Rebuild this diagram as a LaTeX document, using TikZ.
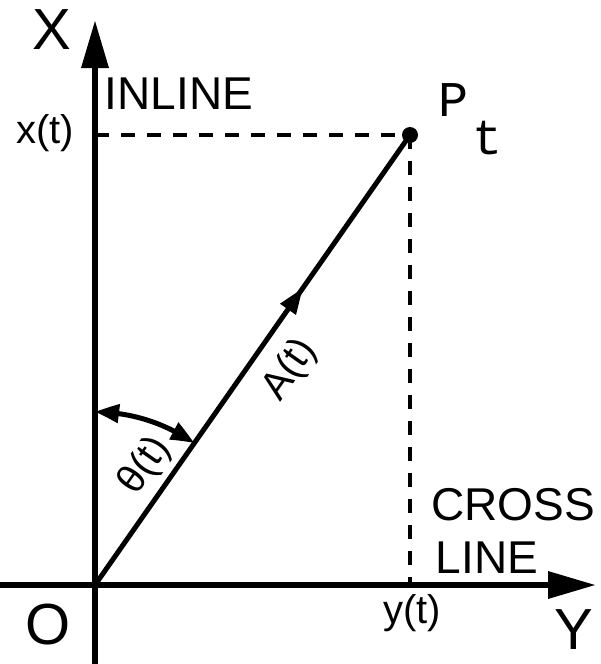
\documentclass[tikz,border=0pt]{standalone}
\usepackage{fontspec}
\setmainfont{Liberation Sans}
\newfontfamily\monofont{Liberation Mono}
\usetikzlibrary{arrows.meta,decorations.markings,bending}
\begin{document}
\begin{tikzpicture}[x=1pt,y=-1pt,
  axis/.style={line width=6.5pt,-{Triangle[length=48pt,width=26pt]}},
  vec/.style={line width=5pt,postaction={decorate},decoration={markings,mark=at position 0.66 with {\arrow{Triangle[length=26pt,width=18pt]}}}},
  guide/.style={line width=4.5pt,dash pattern=on 14pt off 12pt},
  lbl/.style={inner sep=0pt,anchor=center},
  big/.style={lbl,font=\fontsize{58}{60}\selectfont},
  mid/.style={lbl,font=\fontsize{46}{50}\selectfont},
  small/.style={lbl,font=\fontsize{40}{44}\selectfont},
  ang/.style={line width=5pt,{Triangle[length=24pt,width=18pt,bend]}-{Triangle[length=24pt,width=18pt,bend]}}]
\useasboundingbox (0,0) rectangle (600,664);
\coordinate (O) at (95,585);
\coordinate (P) at (410,135);
\coordinate (xtop) at (95,20);
\coordinate (xbot) at (95,664);
\coordinate (yleft) at (0,585);
\coordinate (yright) at (596,585);
\coordinate (xt) at (95,135);
\coordinate (yt) at (410,585);
% axes
\draw[axis] (xbot) -- (xtop);
\draw[axis] (yleft) -- (yright);
% guides
\draw[guide] (xt) -- (P);
\draw[guide] (P) -- (yt);
% vector
\draw[vec] (O) -- (P);
\fill (P) circle[radius=8pt];
% angle
\draw[ang] (O) ++(90:-173) arc[start angle=-90,end angle=-55,radius=173];
% labels
\node[big] (lX) at (52,30) {X};
\node[mid] (lin) at (179,94) {INLINE};
\node[small] (lxt) at (45,133) {x(t)};
\node[lbl,font=\monofont\fontsize{50}{52}\selectfont] (lP) at (453,100) {P};
\node[lbl,font=\monofont\fontsize{50}{52}\selectfont] (lt) at (487,138) {t};
\node[small,rotate=55] (lA) at (290,370) {A(t)};
\node[small,rotate=55] (lth) at (145,466) {θ(t)};
\node[mid] (lc) at (513,505) {CROSS};
\node[mid] (ll) at (487,558) {LINE};
\node[big] (lO) at (48,625) {O};
\node[small] (lyt) at (412,613) {y(t)};
\node[big] (lY) at (574,630) {Y};
\end{tikzpicture}
\end{document}
